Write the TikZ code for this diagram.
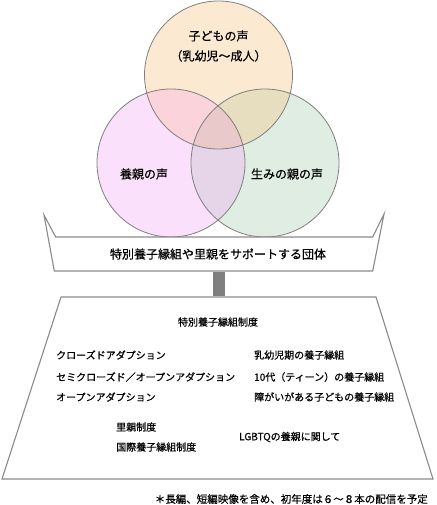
\documentclass[tikz,border=0pt]{standalone}
\usepackage{fontspec}
\setmainfont{Noto Sans CJK JP}[FakeBold=0.6]
\usetikzlibrary{calc}

\definecolor{kidcol}{HTML}{FCE9D2}
\definecolor{adoptcol}{HTML}{FBE0FB}
\definecolor{birthcol}{HTML}{DFEDE3}
\definecolor{kidadopt}{HTML}{FBD3DA}
\definecolor{kidbirth}{HTML}{E7DDBF}
\definecolor{adoptbirth}{HTML}{E6D4E8}
\definecolor{allthree}{HTML}{EAC9CA}
\definecolor{rimgray}{HTML}{7F7F7F}
\definecolor{framegray}{HTML}{8A8A8A}

\begin{document}
\begin{tikzpicture}[x=1pt,y=-1pt]
    \useasboundingbox (0,0) rectangle (436,505);
    %circle centres
    \coordinate (kid) at (218.5,75);
    \coordinate (adopt) at (171,163);
    \coordinate (birth) at (265,163);

    %base fills
    \fill[kidcol] (kid) circle (74pt);
    \fill[adoptcol] (adopt) circle (74pt);
    \fill[birthcol] (birth) circle (74pt);
    %overlaps
    \begin{scope}
        \clip (kid) circle (74pt);
        \fill[kidadopt] (adopt) circle (74pt);
        \fill[kidbirth] (birth) circle (74pt);
    \end{scope}
    \begin{scope}
        \clip (adopt) circle (74pt);
        \fill[adoptbirth] (birth) circle (74pt);
    \end{scope}
    \begin{scope}
        \clip (kid) circle (74pt);
        \clip (adopt) circle (74pt);
        \fill[allthree] (birth) circle (74pt);
    \end{scope}
    \begin{scope}[every path/.style={draw=rimgray, line width=0.8pt}]
        \draw (kid) circle (74pt);
        \draw (adopt) circle (74pt);
        \draw (birth) circle (74pt);
    \end{scope}

    \begin{scope}[every node/.style={font=\fontsize{12}{20}\selectfont, align=center, inner sep=0pt}]
        \node (kidtxt) at (218.5,46) {子どもの声\\（乳幼児〜成人）};
        \node (adopttxt) at (144,174) {養親の声};
        \node (birthtxt) at (287,174) {生みの親の声};
    \end{scope}

    %banner and frame
    \begin{scope}[every path/.style={draw=framegray, line width=1.1pt, fill=white, line join=miter}]
        \draw (44,215) -- (55.7,237) -- (372.7,237) -- (384,214) -- (372.7,271) -- (54.3,271) -- cycle;
        \draw (61,297) -- (376,297) -- (433,479) -- (2,479) -- cycle;
    \end{scope}
    \node[font=\fontsize{12}{14}\selectfont, inner sep=0pt] (org) at (218,254) {特別養子縁組や里親をサポートする団体};

    \coordinate (bartop) at (219,271.6);
    \coordinate (barbot) at (219,296.4);
    \draw[rimgray, line width=12.5pt] (bartop) -- (barbot);

    %contents of the frame
    \begin{scope}[every node/.style={font=\fontsize{10}{12}\selectfont, anchor=west, inner sep=0pt}]
        \node[anchor=center] (sys) at (218,322) {特別養子縁組制度};
        \node (closed) at (56,355) {クローズドアダプション};
        \node (semi) at (56,377) {セミクローズド／オープンアダプション};
        \node (open) at (56,397) {オープンアダプション};
        \node (infant) at (254,355) {乳幼児期の養子縁組};
        \node (teen) at (254,377) {10代（ティーン）の養子縁組};
        \node (disab) at (254,397) {障がいがある子どもの養子縁組};
        \node (foster) at (116,427) {里親制度};
        \node (intl) at (116,447) {国際養子縁組制度};
        \node (lgbtq) at (239,437) {LGBTQの養親に関して};
    \end{scope}

    \node[font=\fontsize{10.5}{12}\selectfont, anchor=east, inner sep=0pt] (note) at (428,499) {＊長編、短編映像を含め、初年度は６～８本の配信を予定};
\end{tikzpicture}
\end{document}
